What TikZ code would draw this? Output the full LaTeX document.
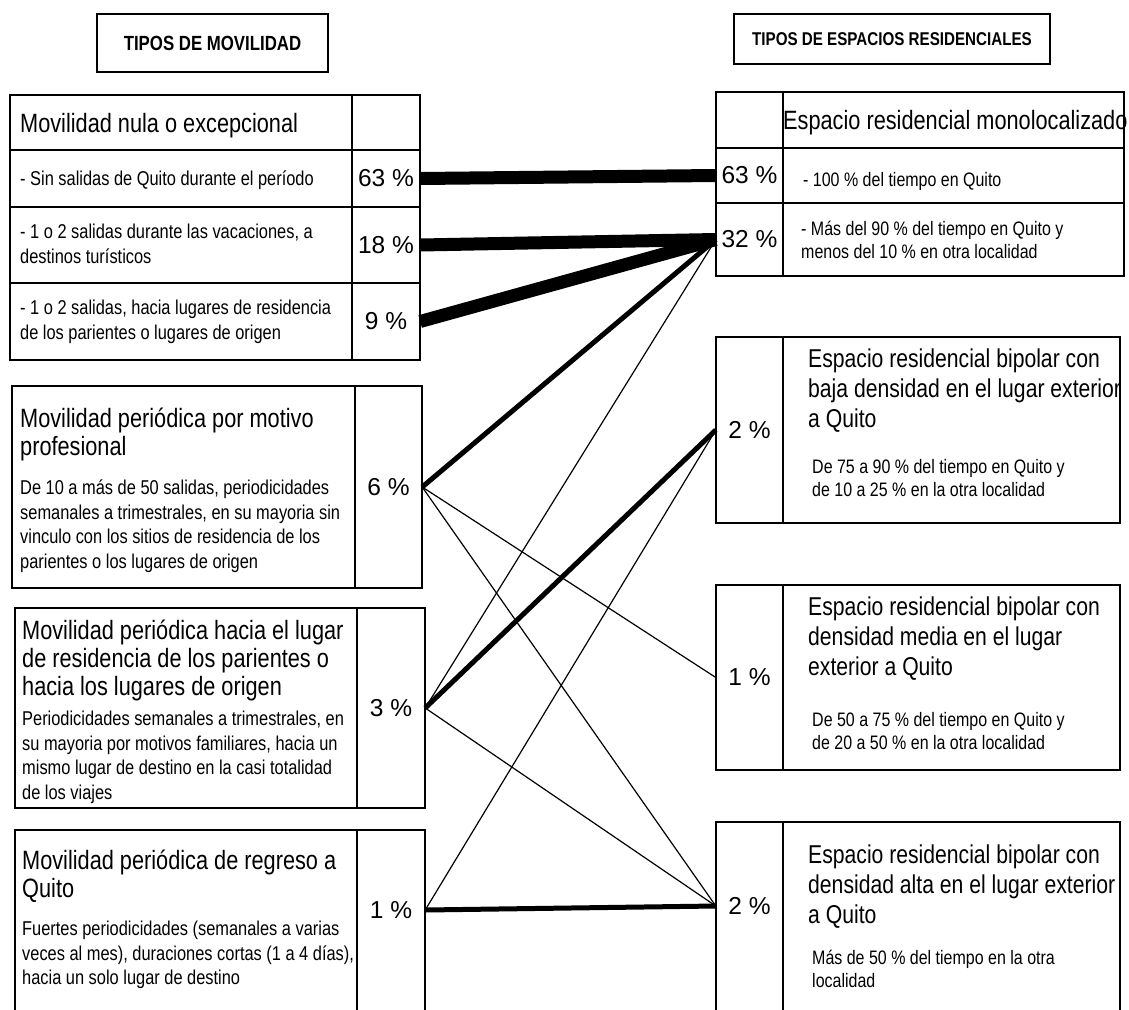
\documentclass[tikz,border=0pt]{standalone}
\usepackage{fontspec}
\setmainfont{Liberation Sans}
\newfontfamily\narrowfont{Liberation Sans}[FakeStretch=0.82]

\newcommand{\titlesize}{\narrowfont\fontsize{26.5}{28}\selectfont}
\newcommand{\rtitlesize}{\narrowfont\fontsize{25.8}{30}\selectfont}
\newcommand{\bodysize}{\narrowfont\fontsize{20}{24.5}\selectfont}
\newcommand{\smallsize}{\narrowfont\fontsize{19.5}{23}\selectfont}

\tikzset{
  boxline/.style={line width=1.8pt},
  headbox/.style={draw, line width=1.8pt, inner sep=0pt, font=\narrowfont\bfseries\fontsize{20.5}{24}\selectfont},
  titletext/.style={anchor=north west, inner sep=0pt, align=left, font=\titlesize},
  rtitletext/.style={anchor=north west, inner sep=0pt, align=left, font=\rtitlesize},
  bodytext/.style={anchor=north west, inner sep=0pt, align=left, font=\bodysize},
  smalltext/.style={anchor=north west, inner sep=0pt, align=left, font=\smallsize},
  pct/.style={inner sep=0pt, font=\fontsize{24.5}{28}\selectfont},
  flowthick/.style={line width=13pt},
  flowmid/.style={line width=5pt},
  flowthin/.style={line width=1.2pt}
}

\begin{document}
\begin{tikzpicture}[x=1pt, y=-1pt]
  \useasboundingbox (0,0) rectangle (1129,1009);
  \clip (0,0) rectangle (1129,1009);

  % Headers
  \node[headbox, minimum width=231pt, minimum height=58pt] (hmov) at (212.5,43) {TIPOS DE MOVILIDAD};
  \node[headbox, minimum width=316pt, minimum height=50pt, font=\narrowfont\bfseries\fontsize{18.5}{22}\selectfont] (hesp) at (892,39) {TIPOS DE ESPACIOS RESIDENCIALES};

  % Left boxes (movilidad)
  \draw[boxline] (10,95) rectangle (420,360);
  \draw[boxline] (352,95) -- (352,360);
  \draw[boxline] (10,150) -- (420,150);
  \draw[boxline] (10,207) -- (420,207);
  \draw[boxline] (10,283) -- (420,283);
  \draw[boxline] (12,386) rectangle (422,588);
  \draw[boxline] (355,386) -- (355,588);
  \draw[boxline] (15,608) rectangle (425,808);
  \draw[boxline] (357,608) -- (357,808);
  \draw[boxline] (15,830) rectangle (425,1040);
  \draw[boxline] (357,830) -- (357,1040);

  \node[titletext] (nula) at (20,113) {Movilidad nula o excepcional};
  \node[bodytext] (nulaA) at (20,171) {- Sin salidas de Quito durante el período};
  \node[bodytext] (nulaB) at (20,224) {- 1 o 2 salidas durante las vacaciones, a\\destinos turísticos};
  \node[bodytext] (nulaC) at (20,300) {- 1 o 2 salidas, hacia lugares de residencia\\de los parientes o lugares de origen};

  \node[titletext] (prof) at (20,408) {Movilidad periódica por motivo\\profesional};
  \node[bodytext] (profB) at (20,480) {De 10 a más de 50 salidas, periodicidades\\semanales a trimestrales, en su mayoria sin\\vinculo con los sitios de residencia de los\\parientes o los lugares de origen};

  \node[titletext] (fam) at (22,620) {Movilidad periódica hacia el lugar\\de residencia de los parientes o\\hacia los lugares de origen};
  \node[bodytext] (famB) at (22,711) {Periodicidades semanales a trimestrales, en\\su mayoria por motivos familiares, hacia un\\mismo lugar de destino en la casi totalidad\\de los viajes};

  \node[titletext] (reg) at (22,850) {Movilidad periódica de regreso a\\Quito};
  \node[bodytext] (regB) at (22,921) {Fuertes periodicidades (semanales a varias\\veces al mes), duraciones cortas (1 a 4 días),\\hacia un solo lugar de destino};

  % Percentages, left
  \node[pct, minimum width=68pt, minimum height=57pt] (m63) at (386,178.5) {63 \%};
  \node[pct, minimum width=68pt, minimum height=76pt] (m18) at (386,245) {18 \%};
  \node[pct, minimum width=68pt, minimum height=77pt] (m9) at (386,321.5) {9 \%};
  \node[pct, minimum width=67pt, minimum height=202pt] (m6) at (388.5,487) {6 \%};
  \node[pct, minimum width=68pt, minimum height=200pt] (m3) at (391,708) {3 \%};
  \node[pct, minimum width=68pt, minimum height=160pt] (m1) at (391,910) {1 \%};

  % Right boxes (espacios residenciales)
  \draw[boxline] (716,92) rectangle (1124,276);
  \draw[boxline] (783,92) -- (783,276);
  \draw[boxline] (716,148) -- (1124,148);
  \draw[boxline] (716,203) -- (1124,203);
  \draw[boxline] (716,337) rectangle (1120,523);
  \draw[boxline] (783,337) -- (783,523);
  \draw[boxline] (716,585) rectangle (1120,770);
  \draw[boxline] (783,585) -- (783,770);
  \draw[boxline] (716,822) rectangle (1120,1040);
  \draw[boxline] (783,822) -- (783,1040);

  \node[titletext] (mono) at (783,110) {Espacio residencial monolocalizado};
  \node[smalltext] (monoA) at (803,172) {- 100 \% del tiempo en Quito};
  \node[smalltext] (monoB) at (801,221) {- Más del 90 \% del tiempo en Quito y\\menos del 10 \% en otra localidad};

  \node[rtitletext] (bipb) at (808,349) {Espacio residencial bipolar con\\baja densidad en el lugar exterior\\a Quito};
  \node[smalltext] (bipbB) at (812,459) {De 75 a 90 \% del tiempo en Quito y\\de 10 a 25 \% en la otra localidad};

  \node[rtitletext] (bipm) at (808,597) {Espacio residencial bipolar con\\densidad media en el lugar\\exterior a Quito};
  \node[smalltext] (bipmB) at (812,712) {De 50 a 75 \% del tiempo en Quito y\\de 20 a 50 \% en la otra localidad};

  \node[rtitletext] (bipa) at (808,845) {Espacio residencial bipolar con\\densidad alta en el lugar exterior\\a Quito};
  \node[smalltext] (bipaB) at (812,950) {Más de 50 \% del tiempo en la otra\\localidad};

  % Percentages, right
  \node[pct, minimum width=67pt, minimum height=55pt] (e63) at (749.5,175.5) {63 \%};
  \node[pct, minimum width=67pt, minimum height=73pt] (e32) at (749.5,239.5) {32 \%};
  \node[pct, minimum width=67pt, minimum height=186pt] (ebaja) at (749.5,430) {2 \%};
  \node[pct, minimum width=67pt, minimum height=185pt] (emedia) at (749.5,677.5) {1 \%};
  \node[pct, minimum width=67pt, minimum height=168pt] (ealta) at (749.5,906) {2 \%};

  % Flows
  \draw[flowthick] (m63.east) -- (e63.west);
  \draw[flowthick] (m18.east) -- (e32.west);
  \draw[flowthick] (m9.east) -- (e32.west);
  \draw[flowmid] (m6.east) -- (e32.west);
  \draw[flowthin] (m6.east) -- (emedia.west);
  \draw[flowthin] (m6.east) -- (ealta.west);
  \draw[flowthin] (m3.east) -- (e32.west);
  \draw[flowmid] (m3.east) -- (ebaja.west);
  \draw[flowthin] (m3.east) -- (ealta.west);
  \draw[flowthin] (m1.east) -- (ebaja.west);
  \draw[flowmid] (m1.east) -- (ealta.west);
\end{tikzpicture}
\end{document}
